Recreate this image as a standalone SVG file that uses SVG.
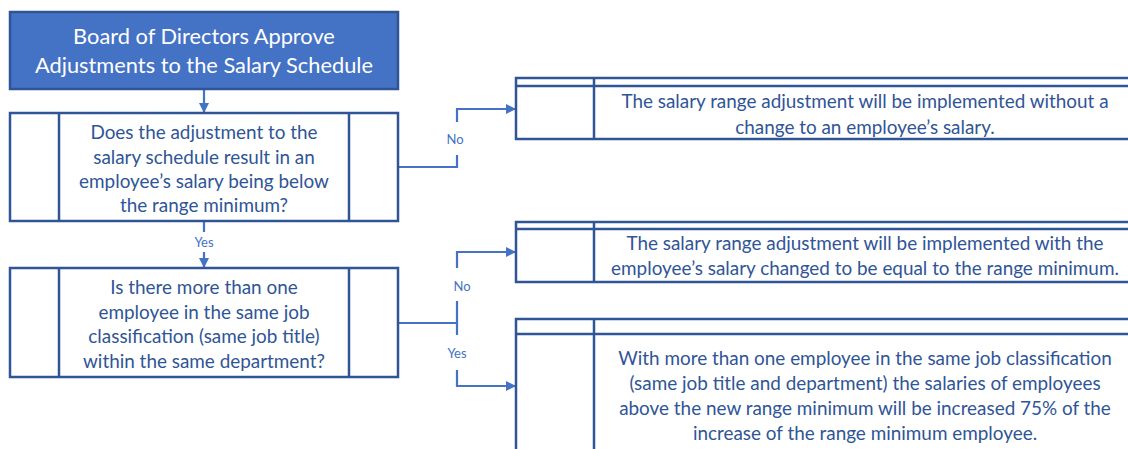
<svg xmlns="http://www.w3.org/2000/svg" width="1128" height="449" viewBox="0 0 1128 449">
  <defs>
    <marker id="arrow" viewBox="0 0 10 10" refX="10" refY="5" markerWidth="10" markerHeight="10" markerUnits="userSpaceOnUse" orient="auto">
      <path d="M0,0 L10,5 L0,10 Z" fill="#4472C4"/>
    </marker>
    <style>
      .frame { fill: #FFFFFF; stroke: #2F5597; stroke-width: 2.5; }
      .rule { stroke: #2F5597; stroke-width: 2.5; fill: none; }
      .start { fill: #4472C4; stroke: #2F5597; stroke-width: 2.5; }
      .wire { stroke: #4472C4; stroke-width: 2.2; fill: none; }
      .txt { font-family: Lato, "Liberation Sans", sans-serif; font-size: 18.9px; fill: #2F5597; text-anchor: middle; }
      .head { font-family: Lato, "Liberation Sans", sans-serif; font-size: 21.8px; fill: #FFFFFF; text-anchor: middle; }
      .lbl { font-family: Lato, "Liberation Sans", sans-serif; font-size: 13px; fill: #4472C4; text-anchor: middle; }
    </style>
  </defs>

  <!-- connectors -->
  <g id="connectors">
    <line class="wire" x1="204" y1="89" x2="204" y2="113" marker-end="url(#arrow)"/>
    <line class="wire" x1="204" y1="221" x2="204" y2="232"/>
    <line class="wire" x1="204" y1="252" x2="204" y2="268" marker-end="url(#arrow)"/>
    <!-- first decision, No branch -->
    <polyline class="wire" points="398,167 457,167 457,155"/>
    <polyline class="wire" points="457,122 457,109 516,109" marker-end="url(#arrow)"/>
    <!-- second decision, No / Yes branches -->
    <polyline class="wire" points="398,323 457,323"/>
    <polyline class="wire" points="457,301 457,335"/>
    <polyline class="wire" points="457,268 457,252 516,252" marker-end="url(#arrow)"/>
    <polyline class="wire" points="457,370 457,386 516,386" marker-end="url(#arrow)"/>
    <text class="lbl" x="455" y="144">No</text>
    <text class="lbl" x="462" y="291">No</text>
    <text class="lbl" x="457" y="358">Yes</text>
    <text class="lbl" x="204" y="247">Yes</text>
  </g>

  <g id="board-approval">
    <rect class="start" x="10" y="12" width="388" height="77"/>
    <text class="head" x="204" y="44">Board of Directors Approve</text>
    <text class="head" x="204" y="73">Adjustments to the Salary Schedule</text>
  </g>

  <g id="below-minimum-check">
    <rect class="frame" x="10" y="113" width="388" height="108"/>
    <line class="rule" x1="59" y1="113" x2="59" y2="221"/>
    <line class="rule" x1="349" y1="113" x2="349" y2="221"/>
    <text class="txt" x="204" y="138.5">Does the adjustment to the</text>
    <text class="txt" x="204" y="163.5">salary schedule result in an</text>
    <text class="txt" x="204" y="187.5">employee’s salary being below</text>
    <text class="txt" x="204" y="211.5">the range minimum?</text>
  </g>

  <g id="multiple-employees-check">
    <rect class="frame" x="10" y="268" width="388" height="109"/>
    <line class="rule" x1="59" y1="268" x2="59" y2="377"/>
    <line class="rule" x1="349" y1="268" x2="349" y2="377"/>
    <text class="txt" x="204" y="293.5">Is there more than one</text>
    <text class="txt" x="204" y="318.5">employee in the same job</text>
    <text class="txt" x="204" y="342.5">classification (same job title)</text>
    <text class="txt" x="204" y="367.5">within the same department?</text>
  </g>

  <g id="no-salary-change">
    <rect class="frame" x="516" y="78" width="630" height="61"/>
    <line class="rule" x1="516" y1="86" x2="1146" y2="86"/>
    <line class="rule" x1="594" y1="78" x2="594" y2="139"/>
    <text class="txt" x="865" y="107.5">The salary range adjustment will be implemented without a</text>
    <text class="txt" x="865" y="133.5">change to an employee’s salary.</text>
  </g>

  <g id="raise-to-minimum">
    <rect class="frame" x="516" y="222" width="630" height="60"/>
    <line class="rule" x1="516" y1="229" x2="1146" y2="229"/>
    <line class="rule" x1="594" y1="222" x2="594" y2="282"/>
    <text class="txt" x="865" y="249.5">The salary range adjustment will be implemented with the</text>
    <text class="txt" x="865" y="274.5">employee’s salary changed to be equal to the range minimum.</text>
  </g>

  <g id="proportional-increase">
    <rect class="frame" x="516" y="319" width="630" height="150"/>
    <line class="rule" x1="516" y1="334" x2="1146" y2="334"/>
    <line class="rule" x1="594" y1="319" x2="594" y2="469"/>
    <text class="txt" x="865" y="364.5">With more than one employee in the same job classification</text>
    <text class="txt" x="865" y="389.5">(same job title and department) the salaries of employees</text>
    <text class="txt" x="865" y="414.5">above the new range minimum will be increased 75% of the</text>
    <text class="txt" x="865" y="439.5">increase of the range minimum employee.</text>
  </g>
</svg>
